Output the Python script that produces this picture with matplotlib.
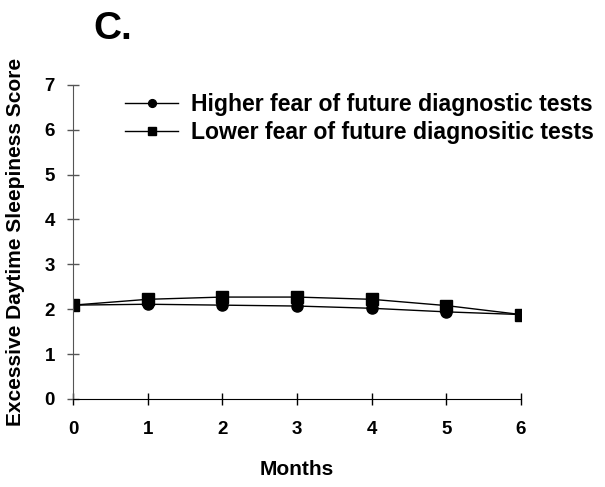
import matplotlib
matplotlib.use("Agg")
import matplotlib.pyplot as plt

months = [0, 1, 2, 3, 4, 5, 6]
higher_fear = [2.09, 2.11, 2.09, 2.07, 2.02, 1.94, 1.88]
lower_fear = [2.09, 2.22, 2.27, 2.27, 2.22, 2.08, 1.88]
labels = ["Higher fear of future diagnostic tests",
          "Lower fear of future diagnositic tests"]

plt.rcParams['font.family'] = ['Liberation Sans', 'DejaVu Sans']
plt.rcParams['font.weight'] = 'bold'

fig = plt.figure(figsize=(6.05, 4.87), dpi=100)
ax = fig.add_axes([0.1207, 0.181, 0.7405, 0.6445])

ax.plot(months, higher_fear, color='black', lw=1, marker='o', ms=8, label=labels[0])
ax.plot(months, lower_fear, color='black', lw=1, marker='s', ms=8, label=labels[1])

ax.set_xlim(0, 6)
ax.set_ylim(0, 7)
ax.set_xticks(months)
ax.set_yticks(range(0, 8))
ax.tick_params(direction='inout', length=8, width=1, labelsize=13.5)
ax.tick_params(axis='x', pad=12)
ax.tick_params(axis='y', pad=9, color='#555555')
for lab in ax.get_xticklabels() + ax.get_yticklabels():
    lab.set_fontweight('bold')

ax.spines['top'].set_visible(False)
ax.spines['right'].set_visible(False)
ax.spines['left'].set_color('#555555')
for s in ax.spines.values():
    s.set_clip_on(False)

ax.set_xlabel("Months", fontsize=15, fontweight='bold', labelpad=16)
ax.set_ylabel("Excessive Daytime Sleepiness Score", fontsize=15, fontweight='bold', labelpad=14)

ax.legend(loc='upper left', bbox_to_anchor=(0.07, 1.04), frameon=False,
          prop={'weight': 'bold', 'size': 16.6}, handlelength=2.3, handletextpad=0.55,
          labelspacing=0.22, markerscale=0.7)

fig.text(0.187, 0.94, "C.", fontsize=28, fontweight='bold', ha='center', va='center')

fig.savefig("out.png", dpi=100)
